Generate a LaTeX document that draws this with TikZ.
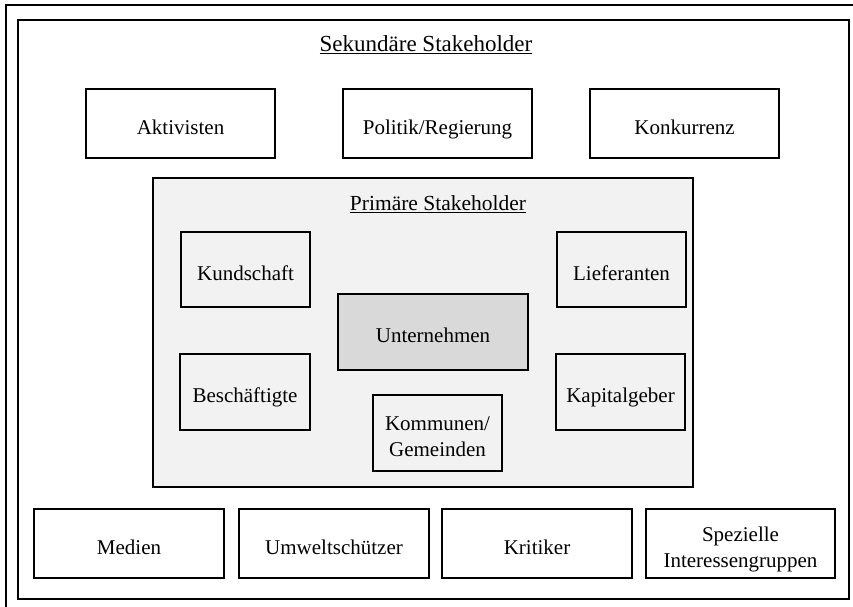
\documentclass[tikz,border=0pt]{standalone}
\usepackage{fontspec}
\setmainfont{Liberation Serif}
\definecolor{primfill}{HTML}{F2F2F2}
\definecolor{corefill}{HTML}{D9D9D9}
\newcommand\mystrut{\rule[-6pt]{0pt}{33pt}}
\newcommand\topstrut{\rule{0pt}{27pt}}
\newcommand\botstrut{\rule[-6pt]{0pt}{6pt}}
\begin{document}
\begin{tikzpicture}[x=1pt,y=-1pt,
  txt/.style={font=\fontsize{21}{26}\selectfont,align=center,inner sep=0pt},
  frame/.style={draw,line width=2pt,inner sep=0pt,anchor=north west},
  box/.style={draw,line width=2pt,fill=white,txt,anchor=north west},
  pbox/.style={box,fill=primfill},
  core/.style={box,fill=corefill}]
\useasboundingbox (0,0) rectangle (853,606);
% frames
\node[frame,minimum width=870pt,minimum height=620pt] (outer) at (5,4) {};
\node[frame,minimum width=831pt,minimum height=579pt] (inner) at (17,19) {};
\node[txt,font=\fontsize{23}{28}\selectfont] (sektitle) at (426,45) {\underline{Sekundäre Stakeholder}};
% top row
\node[box,minimum width=189pt,minimum height=69pt] (akt) at (85,88) {\mystrut Aktivisten};
\node[box,minimum width=189pt,minimum height=69pt] (pol) at (342,88) {\mystrut Politik/Regierung};
\node[box,minimum width=189pt,minimum height=69pt] (kon) at (589,88) {\mystrut Konkurrenz};
% primary area
\node[frame,fill=primfill,minimum width=540pt,minimum height=309pt] (prim) at (152,177) {};
\node[txt,font=\fontsize{21.5}{26}\selectfont] (primtitle) at (438,204) {\underline{Primäre Stakeholder}};
\node[pbox,minimum width=129pt,minimum height=75pt] (kund) at (180,231) {\mystrut Kundschaft};
\node[pbox,minimum width=129pt,minimum height=75pt] (lief) at (556,231) {\mystrut Lieferanten};
\node[core,minimum width=190pt,minimum height=76pt] (unt) at (337,293) {\mystrut Unternehmen};
\node[pbox,minimum width=130pt,minimum height=76pt] (besch) at (179,353) {\mystrut Beschäftigte};
\node[pbox,minimum width=129pt,minimum height=76pt] (kap) at (555,353) {\mystrut Kapitalgeber};
\node[pbox,minimum width=129pt,minimum height=76pt] (komm) at (372,394) {\topstrut Kommunen/\\Gemeinden\botstrut};
% bottom row
\node[box,minimum width=190pt,minimum height=69pt] (med) at (33,508) {\mystrut Medien};
\node[box,minimum width=190pt,minimum height=69pt] (umw) at (238,508) {\mystrut Umweltschützer};
\node[box,minimum width=190pt,minimum height=69pt] (krit) at (441,508) {\mystrut Kritiker};
\node[box,minimum width=189pt,minimum height=69pt] (spez) at (645,508) {\topstrut Spezielle\\Interessengruppen\botstrut};
\end{tikzpicture}
\end{document}
